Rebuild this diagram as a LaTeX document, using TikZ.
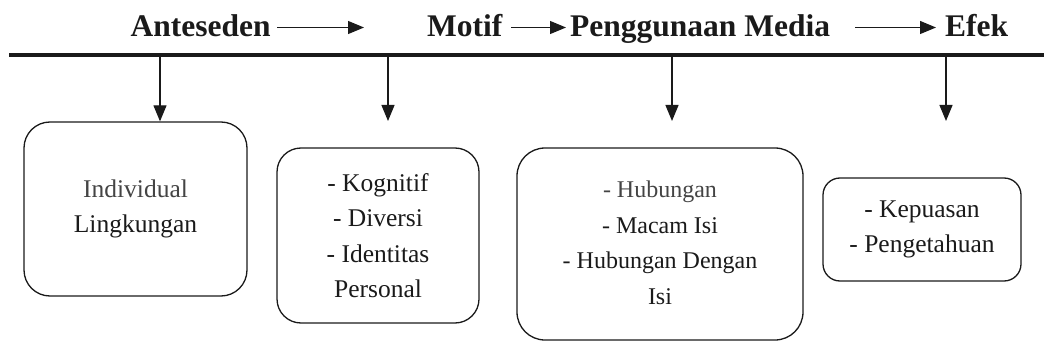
\documentclass[tikz,border=0pt]{standalone}
\usepackage{fontspec}
\setmainfont{Liberation Serif}
\usetikzlibrary{arrows.meta}
\definecolor{ink}{HTML}{1A1A1A}
\definecolor{soft}{HTML}{444444}
\begin{document}
\begin{tikzpicture}[x=1pt,y=-1pt,
  hdr/.style={font=\fontsize{31.5}{36}\selectfont\bfseries, inner sep=0pt, text=ink},
  boxnode/.style={draw=ink, line width=1.3pt, align=center, text=ink,
    font=\fontsize{25.5}{35.5}\selectfont, inner sep=0pt},
  arr/.style={draw=ink, line width=1.2pt, -{Triangle[length=16pt,width=13pt]}},
]
\useasboundingbox (0,0) rectangle (1044,350);

% header words
\node[hdr, anchor=base west] (ant) at (130.5,36.5) {Anteseden};
\node[hdr, anchor=base west] (mot) at (427,36.5) {Motif};
\node[hdr, anchor=base west] (pm)  at (570,36.5) {Penggunaan Media};
\node[hdr, anchor=base west] (ef)  at (945,36.5) {Efek};

% header arrows
\coordinate (h1s) at (277,27.5);  \coordinate (h1e) at (364,27.5);
\coordinate (h2s) at (511,27.5);  \coordinate (h2e) at (566,27.5);
\coordinate (h3s) at (855,27.5);  \coordinate (h3e) at (936,27.5);
\draw[arr] (h1s) -- (h1e);
\draw[arr] (h2s) -- (h2e);
\draw[arr] (h3s) -- (h3e);

% thick rule
\coordinate (r0) at (9,55);
\coordinate (r1) at (1044,55);
\draw[ink, line width=4.5pt] (r0) -- (r1);

% boxes
\node[boxnode, rounded corners=26pt, minimum width=223pt, minimum height=174pt] (b1) at (135.5,209)
  {{\color{soft}Individual}\\Lingkungan};
\node[boxnode, rounded corners=24pt, minimum width=202pt, minimum height=175pt] (b2) at (378,235.5)
  {- Kognitif\\- Diversi\\- Identitas\\Personal};
\node[boxnode, rounded corners=28pt, minimum width=286pt, minimum height=192pt,
      font=\fontsize{24}{35.5}\selectfont] (b3) at (660,244)
  {\raisebox{6pt}{\begin{tabular}{@{}c@{}}{\color{soft}- Hubungan}\\- Macam Isi\\- Hubungan Dengan\\Isi\end{tabular}}};
\node[boxnode, rounded corners=17pt, minimum width=198pt, minimum height=103pt] (b4) at (922,229.5)
  {- Kepuasan\\- Pengetahuan};

% vertical arrows
\coordinate (v1) at (160,57);
\coordinate (v2) at (388,57);
\coordinate (v3) at (672,57);
\coordinate (v4) at (946,57);
\coordinate (e2) at (388,121);
\coordinate (e3) at (672,121);
\coordinate (e4) at (946,121);
\draw[arr] (v1) -- (v1 |- b1.north);
\draw[arr] (v2) -- (e2);
\draw[arr] (v3) -- (e3);
\draw[arr] (v4) -- (e4);
\end{tikzpicture}
\end{document}
